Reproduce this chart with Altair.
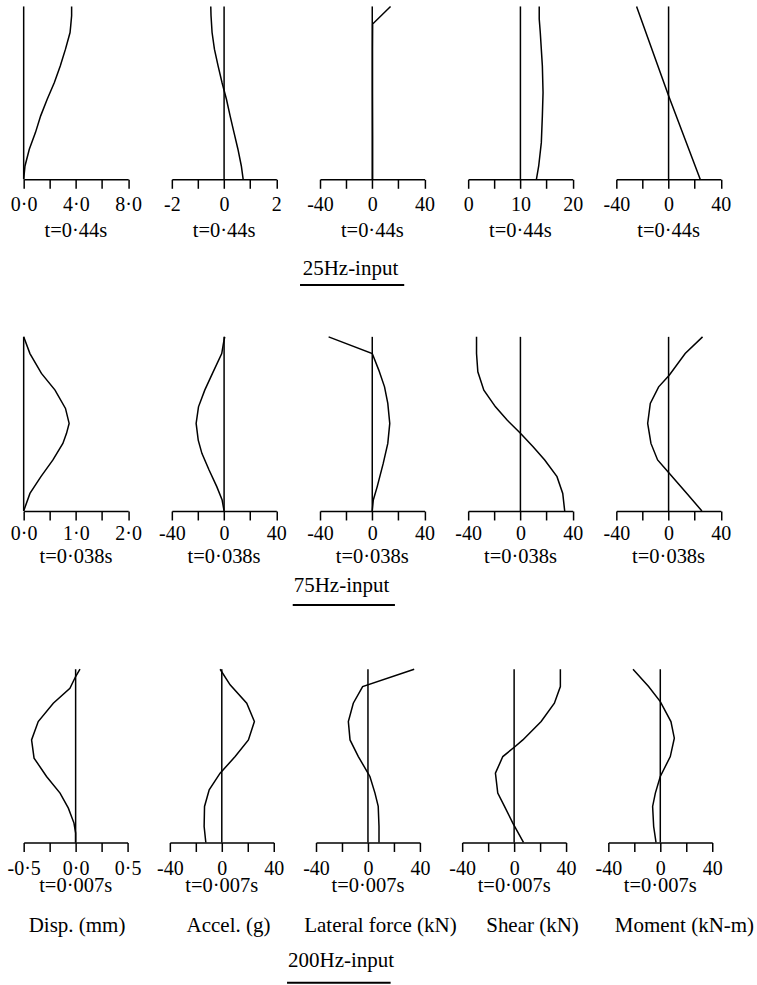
import altair as alt
import pandas as pd

FONT = "Liberation Serif"

# ---------------- data (height fraction, value) ----------------
# Row 1: 25Hz input, t=0.44s
r1_disp_h = [0, 0.077, 0.174, 0.270, 0.367, 0.463, 0.560, 0.656, 0.753, 0.849, 0.888, 0.946, 1.0]
r1_disp_v = [0, 0.1, 0.43, 0.9, 1.3, 1.8, 2.35, 2.8, 3.2, 3.55, 3.6, 3.67, 3.67]
r1_acc_h = [0, 0.077, 0.174, 0.270, 0.367, 0.463, 0.560, 0.656, 0.753, 0.849, 0.946, 1.0]
r1_acc_v = [0.73, 0.66, 0.53, 0.38, 0.23, 0.09, -0.08, -0.23, -0.37, -0.46, -0.5, -0.51]
r1_lat_h = [0, 0.25, 0.5, 0.75, 0.898, 1.0]
r1_lat_v = [0.3, 0.3, 0.2, 0.2, 0.3, 14]
r1_shr_h = [0, 0.077, 0.212, 0.367, 0.502, 0.656, 0.849, 0.927, 1.0]
r1_shr_v = [13.06, 13.5, 14.0, 14.2, 14.33, 14.2, 13.8, 13.6, 13.6]
r1_mom_h = [0, 0.483, 1.0]
r1_mom_v = [24.2, 0, -24.5]

# Row 2: 75Hz input, t=0.038s
r2_disp_h = [0, 0.101, 0.197, 0.293, 0.388, 0.446, 0.503, 0.589, 0.694, 0.790, 0.904, 1.0]
r2_disp_v = [0, 0.12, 0.33, 0.56, 0.75, 0.82, 0.87, 0.8, 0.6, 0.34, 0.12, 0]
r2_acc_h = [0, 0.063, 0.140, 0.235, 0.331, 0.407, 0.503, 0.598, 0.694, 0.790, 0.904, 0.962, 1.0]
r2_acc_v = [0, -1.5, -5.6, -11.5, -17, -19.8, -21.4, -19.6, -14.8, -8.9, -1.8, -0.5, 0.5]
r2_lat_h = [0, 0.063, 0.140, 0.273, 0.388, 0.503, 0.618, 0.713, 0.809, 0.904, 1.0]
r2_lat_v = [0, 0.8, 3.8, 8.4, 11.9, 13.4, 11.9, 9.4, 5, 0, -33.4]
r2_shr_h = [0, 0.101, 0.197, 0.293, 0.369, 0.446, 0.522, 0.598, 0.694, 0.799, 0.904, 1.0]
r2_shr_v = [33.9, 32.4, 28, 18.6, 9.7, 0, -10.2, -19.1, -28, -32.6, -33.6, -33.6]
r2_mom_h = [0, 0.101, 0.216, 0.293, 0.388, 0.503, 0.618, 0.713, 0.780, 0.904, 1.0]
r2_mom_v = [25.5, 14, 0.5, -8.4, -13.5, -16, -14, -7.6, 0.5, 12.7, 26]

# Row 3: 200Hz input, t=0.007s
r3_disp_h = [0, 0.054, 0.112, 0.198, 0.285, 0.381, 0.487, 0.592, 0.698, 0.804, 0.890, 0.958, 1.0]
r3_disp_v = [0, 0, -0.016, -0.07, -0.15, -0.28, -0.4, -0.424, -0.36, -0.215, -0.055, 0, 0.042]
r3_acc_h = [0, 0.092, 0.208, 0.304, 0.4, 0.496, 0.592, 0.698, 0.804, 0.910, 1.0]
r3_acc_v = [-12.3, -13.6, -13.3, -9.7, -1.3, 10.3, 20.5, 25.1, 19.2, 6.4, -1.3]
r3_lat_h = [0, 0.092, 0.208, 0.285, 0.381, 0.4, 0.496, 0.592, 0.698, 0.804, 0.9, 1.0]
r3_lat_v = [8.5, 8.5, 7.9, 5.4, 1.5, 0, -7.4, -13.8, -15.1, -11.3, -4.1, 35.6]
r3_shr_h = [0, 0.112, 0.208, 0.285, 0.4, 0.496, 0.554, 0.592, 0.698, 0.804, 0.9, 1.0]
r3_shr_v = [7.2, -1, -7.4, -12.6, -14.4, -8.7, 0.8, 6.7, 20.8, 31, 35.6, 35.6]
r3_mom_h = [0, 0.092, 0.208, 0.285, 0.381, 0.496, 0.602, 0.698, 0.813, 0.9, 1.0]
r3_mom_v = [-3.3, -5.1, -5.9, -3.8, 0, 7.7, 10.8, 8.2, 0, -9, -21]

# axis definitions: domain, tick values, labelled ticks, label texts
ax_disp1 = ([0, 8], [0, 2, 4, 6, 8], [0, 4, 8], ["0·0", "4·0", "8·0"])
ax_acc1 = ([-2, 2], [-2, -1, 0, 1, 2], [-2, 0, 2], ["-2", "0", "2"])
ax_40 = ([-40, 40], [-40, -20, 0, 20, 40], [-40, 0, 40], ["-40", "0", "40"])
ax_shr1 = ([0, 20], [0, 5, 10, 15, 20], [0, 10, 20], ["0", "10", "20"])
ax_disp2 = ([0, 2], [0, 0.5, 1, 1.5, 2], [0, 1, 2], ["0·0", "1·0", "2·0"])
ax_disp3 = ([-0.5, 0.5], [-0.5, -0.25, 0, 0.25, 0.5], [-0.5, 0, 0.5], ["-0·5", "0·0", "0·5"])

time_labels = ["t=0·44s", "t=0·038s", "t=0·007s"]
row_titles = ["25Hz-input", "75Hz-input", "200Hz-input"]
col_labels = ["Disp. (mm)", "Accel. (g)", "Lateral force (kN)", "Shear (kN)", "Moment (kN-m)"]


def label_expr(vals, texts):
    parts = [f"datum.value == {v} ? '{t}'" for v, t in zip(vals, texts)]
    return " : ".join(parts) + " : ''"


def spacer(x1, x2, y):
    # white (invisible) rule used only to even out the bounds of the rows
    return alt.Chart(pd.DataFrame({"s": [0]})).mark_rule(color="white", strokeWidth=1).encode(
        x=alt.value(x1), x2=alt.value(x2), y=alt.value(y)
    )


def panel(hs, vs, axdef, ref, w, H, lab_off, tlabel, t_off, extras=()):
    dom, ticks, lvals, ltexts = axdef
    df = pd.DataFrame({"h": hs, "v": vs})
    xenc = alt.X(
        "v:Q",
        scale=alt.Scale(domain=dom, nice=False, zero=False),
        axis=alt.Axis(
            values=ticks, labelExpr=label_expr(lvals, ltexts), title=None, grid=False,
            domainColor="black", domainWidth=1.5, tickColor="black", tickWidth=1.5,
            tickSize=9, labelFont=FONT, labelFontSize=20, labelColor="black",
            labelBaseline="alphabetic", labelPadding=lab_off - 9, labelFlush=False,
            labelOverlap=False, labelBound=False,
        ),
    )
    yenc = alt.Y("h:Q", scale=alt.Scale(domain=[0, 1], nice=False, zero=False), axis=None)
    rule = alt.Chart(pd.DataFrame({"v": [ref]})).mark_rule(color="black", strokeWidth=1.5).encode(x=xenc)
    line = alt.Chart(df).mark_line(color="black", strokeWidth=1.5).encode(x=xenc, y=yenc, order="h:Q")
    tl = alt.Chart(pd.DataFrame({"t": [tlabel]})).mark_text(
        font=FONT, fontSize=20.5, color="black", baseline="alphabetic", align="center"
    ).encode(text="t:N", x=alt.value(w / 2), y=alt.value(H + t_off))
    return alt.layer(rule, line, tl, *extras).properties(width=w, height=H)


def row_title(text, H, tx, ty, ux1, ux2, uy):
    t = alt.Chart(pd.DataFrame({"t": [text]})).mark_text(
        font=FONT, fontSize=21, color="black", baseline="alphabetic", align="left"
    ).encode(text="t:N", x=alt.value(tx), y=alt.value(H + ty))
    u = alt.Chart(pd.DataFrame({"t": [text]})).mark_rule(color="black", strokeWidth=2).encode(
        x=alt.value(ux1), x2=alt.value(ux2), y=alt.value(H + uy)
    )
    return [t, u]


def col_label(text, xc, H, off):
    return alt.Chart(pd.DataFrame({"t": [text]})).mark_text(
        font=FONT, fontSize=21, color="black", baseline="alphabetic", align="center"
    ).encode(text="t:N", x=alt.value(xc), y=alt.value(H + off))


# Row 1
W1, H1 = 104.6, 173
L1, T1 = 31.7, 57.5
row1 = alt.hconcat(
    panel(r1_disp_h, r1_disp_v, ax_disp1, 0, W1, H1, L1, time_labels[0], T1,
          [spacer(-20, -19, H1)]),
    panel(r1_acc_h, r1_acc_v, ax_acc1, 0, W1, H1, L1, time_labels[0], T1),
    panel(r1_lat_h, r1_lat_v, ax_40, 0, W1, H1, L1, time_labels[0], T1,
          row_title(row_titles[0], H1, -17.3, 96, -20, 84.3, 105.7)),
    panel(r1_shr_h, r1_shr_v, ax_shr1, 10, W1, H1, L1, time_labels[0], T1),
    panel(r1_mom_h, r1_mom_v, ax_40, 0, W1, H1, L1, time_labels[0], T1),
    spacing=43.3, bounds="flush",
)

# Row 2
W2, H2 = 104.6, 174.3
L2, T2 = 28.3, 51.7
row2 = alt.hconcat(
    panel(r2_disp_h, r2_disp_v, ax_disp2, 0, W2, H2, L2, time_labels[1], T2,
          [spacer(-20, -19, H2)]),
    panel(r2_acc_h, r2_acc_v, ax_40, 0, W2, H2, L2, time_labels[1], T2),
    panel(r2_lat_h, r2_lat_v, ax_40, 0, W2, H2, L2, time_labels[1], T2,
          row_title(row_titles[1], H2, -26.3, 80.7, -27.3, 75, 94) + [spacer(10, 11, H2 + 106.7)]),
    panel(r2_shr_h, r2_shr_v, ax_40, 0, W2, H2, L2, time_labels[1], T2),
    panel(r2_mom_h, r2_mom_v, ax_40, 0, W2, H2, L2, time_labels[1], T2),
    spacing=43.3, bounds="flush",
)

# Row 3
W3, H3 = 104, 173.4
L3, T3, C3 = 31.6, 50, 89.3
row3 = alt.hconcat(
    panel(r3_disp_h, r3_disp_v, ax_disp3, 0, W3, H3, L3, time_labels[2], T3,
          [col_label(col_labels[0], W3 / 2 + 1.4, H3, C3), spacer(-20, -19, H3)]),
    panel(r3_acc_h, r3_acc_v, ax_40, 0, W3, H3, L3, time_labels[2], T3,
          [col_label(col_labels[1], W3 / 2 + 6.7, H3, C3)]),
    panel(r3_lat_h, r3_lat_v, ax_40, 0, W3, H3, L3, time_labels[2], T3,
          [col_label(col_labels[2], W3 / 2 + 12.5, H3, C3)] +
          row_title(row_titles[2], H3, -28, 124.6, -29, 74.7, 140.3)),
    panel(r3_shr_h, r3_shr_v, ax_40, 0, W3, H3, L3, time_labels[2], T3,
          [col_label(col_labels[3], W3 / 2 + 18.4, H3, C3)]),
    panel(r3_mom_h, r3_mom_v, ax_40, 0, W3, H3, L3, time_labels[2], T3,
          [col_label(col_labels[4], W3 / 2 + 24.2, H3, C3)]),
    spacing=42.3, bounds="flush",
)

chart = alt.vconcat(row1, row2, row3, spacing=47.7).properties(
    padding={"left": 2.7, "top": 3, "right": 2, "bottom": 0}, background="white"
).configure_view(strokeWidth=0, stroke=None)

chart.save("out.html", embed_options={"renderer": "svg", "actions": False})
